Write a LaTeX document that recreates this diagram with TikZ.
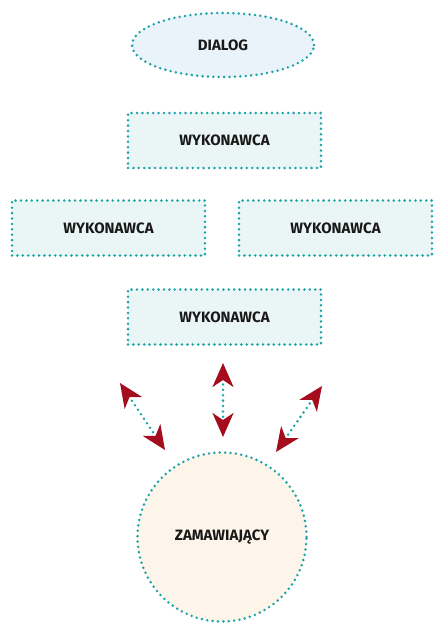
\documentclass[tikz,border=0pt]{standalone}
\usepackage{fontspec}
\setmainfont{Fira Sans}
\usepackage{tikz}
\usetikzlibrary{arrows.meta,shapes.geometric}

\definecolor{kropki}{HTML}{1AA3A8}
\definecolor{czerwony}{HTML}{A30D1E}
\definecolor{tloElipsy}{HTML}{EAF3FA}
\definecolor{tloRamki}{HTML}{EAF6F5}
\definecolor{tloKola}{HTML}{FDF5EA}

\tikzset{
  kropkowana/.style={draw=kropki, line width=2.8pt, dash pattern=on 0pt off 5.4pt, line cap=round},
  ramka/.style={kropkowana, fill=tloRamki, rectangle, minimum width=193pt, minimum height=55pt},
  strzalka/.style={kropkowana, {Stealth[length=24pt,width=21pt,inset=7pt,color=czerwony]}-{Stealth[length=24pt,width=21pt,inset=7pt,color=czerwony]}},
  napis/.style={font=\bfseries\fontsize{15}{17}\selectfont, text=black!90}
}

\begin{document}
\begin{tikzpicture}[x=1pt, y=-1pt]
      \useasboundingbox (0,0) rectangle (440,635);

      \node[kropkowana, napis, ellipse, fill=tloElipsy, minimum width=182pt, minimum height=64pt] (dialog) at (223,45) {DIALOG};

      \node[ramka, napis] (wyk1) at (224.5,140.5) {WYKONAWCA};
      \node[ramka, napis] (wykL) at (108.5,228) {WYKONAWCA};
      \node[ramka, napis] (wykR) at (335.5,228) {WYKONAWCA};
      \node[ramka, napis] (wyk4) at (224.5,317) {WYKONAWCA};

      \node[kropkowana, napis, circle, fill=tloKola, minimum size=169pt] (zam) at (222,537) {ZAMAWIAJĄCY};

      % strzalki
      \coordinate (lewyA) at (120,383);
      \coordinate (lewyB) at (165,450);
      \coordinate (srodA) at (223,363);
      \coordinate (srodB) at (223,437);
      \coordinate (prawyA) at (322,386);
      \coordinate (prawyB) at (276,452);

      \draw[strzalka] (lewyA) -- (lewyB);
      \draw[strzalka] (srodA) -- (srodB);
      \draw[strzalka] (prawyA) -- (prawyB);
    \end{tikzpicture}
\end{document}
